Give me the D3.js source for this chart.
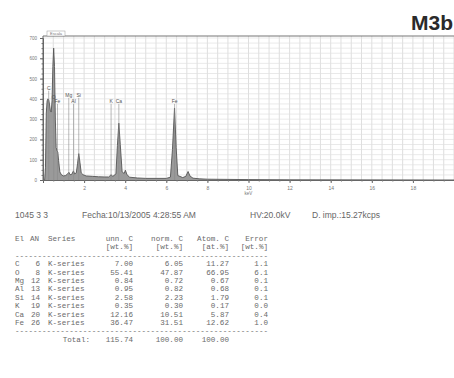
<!DOCTYPE html>
<html><head><meta charset="utf-8">
<script src="https://cdn.jsdelivr.net/npm/d3@7"></script>
<style>html,body{margin:0;padding:0;background:#fff;}svg{display:block;}</style>
</head><body>
<svg id="c" width="454" height="378"></svg>
<script>
// ---- spectrum data (keV, counts) ----
const energy = [0.00,0.08,0.12,0.16,0.20,0.24,0.28,0.32,0.36,0.40,0.44,0.48,0.52,0.56,0.60,0.64,0.68,0.72,0.76,0.82,0.90,1.00,1.10,1.20,1.26,1.32,1.40,1.48,1.54,1.62,1.68,1.74,1.80,1.86,1.95,2.10,2.40,2.70,3.00,3.20,3.31,3.40,3.55,3.62,3.69,3.76,3.85,3.95,4.01,4.08,4.20,4.60,5.00,5.50,6.00,6.20,6.30,6.40,6.48,6.56,6.80,6.95,7.06,7.15,7.30,7.60,8.00,9.00,10.0,12.0,20.0];
const counts = [0,0,60,330,390,400,395,370,340,335,390,560,650,560,300,160,145,138,95,40,25,20,22,30,38,26,28,45,30,35,80,130,85,35,26,20,18,16,15,15,26,18,30,170,280,175,40,32,48,28,14,10,8,8,8,14,150,355,160,22,12,18,42,20,9,6,4,3,2,1,0];

// peak markers
const markerNames = ["C","O","Fe","Mg","Al","Si","K","Ca","Fe"];
const markerKeV = [0.277,0.525,0.705,1.254,1.487,1.740,3.313,3.691,6.403];
const markerLabelCounts = [445,400,380,410,380,410,380,380,380];

// axes
const xTickValues = [2,4,6,8,10,12,14,16,18];
const yTickValues = [0,100,200,300,400,500,600,700];

// header info
const infoTexts = ["1045 3 3","Fecha:10/13/2005 4:28:55 AM","HV:20.0kV","D. imp.:15.27kcps"];
const title = "M3b";

// quantification table
const tElements = ["C","O","Mg","Al","Si","K","Ca","Fe"];
const tAN = ["6","8","12","13","14","19","20","26"];
const tSeries = ["K-series","K-series","K-series","K-series","K-series","K-series","K-series","K-series"];
const tUnn = ["7.00","55.41","0.84","0.95","2.58","0.35","12.16","36.47"];
const tNorm = ["6.05","47.87","0.72","0.82","2.23","0.30","10.51","31.51"];
const tAtom = ["11.27","66.95","0.67","0.68","1.79","0.17","5.87","12.62"];
const tErr = ["1.1","6.1","0.1","0.1","0.1","0.0","0.4","1.0"];
const totals = ["Total:","115.74","100.00","100.00"];

const svg = d3.select("#c");
const x = d3.scaleLinear().domain([0,20]).range([43, 454]);
const y = d3.scaleLinear().domain([0,700]).range([180, 38]);
const yTop = 36;

// grid
const g = svg.append("g");
g.selectAll("line.vg").data(d3.range(0.5,20.01,0.5)).enter().append("line")
  .attr("x1",d=>x(d)).attr("x2",d=>x(d)).attr("y1",yTop).attr("y2",y(0))
  .attr("stroke","#d6d6d6").attr("stroke-width",0.8);
g.selectAll("line.hg").data(d3.range(25,711,25)).enter().append("line")
  .attr("x1",x(0)).attr("x2",454).attr("y1",d=>y(d)).attr("y2",d=>y(d))
  .attr("stroke","#e0e0e0").attr("stroke-width",0.7);

// top frame line
svg.append("line").attr("x1",x(0)).attr("x2",454).attr("y1",yTop).attr("y2",yTop)
  .attr("stroke","#777").attr("stroke-width",1.2);
svg.append("rect").attr("x",47).attr("y",31).attr("width",18).attr("height",5)
  .attr("fill","#fff").attr("stroke","#999").attr("stroke-width",0.5);
svg.append("text").attr("x",56).attr("y",35).attr("text-anchor","middle")
  .attr("font-family","Liberation Sans, Arial").attr("font-size",4).attr("fill","#777").text("Escala");

// spectrum
const pts = energy.map((e,i)=>[e,counts[i]]);
const area = d3.area().x(d=>x(d[0])).y0(y(0)).y1(d=>y(d[1])).curve(d3.curveLinear);
const line = d3.line().x(d=>x(d[0])).y(d=>y(d[1])).curve(d3.curveLinear);
svg.append("path").datum(pts).attr("d",area).attr("fill","#9a9a9a");
svg.append("path").datum(pts).attr("d",line).attr("fill","none").attr("stroke","#555").attr("stroke-width",0.9);

// markers
markerNames.forEach((n,i)=>{
  const mx = x(markerKeV[i]), my = y(markerLabelCounts[i]);
  svg.append("line").attr("x1",mx).attr("x2",mx).attr("y1",my+1).attr("y2",y(0))
    .attr("stroke","#8a8a8a").attr("stroke-width",0.6);
  svg.append("text").attr("x",mx).attr("y",my).attr("text-anchor","middle")
    .attr("font-family","Liberation Sans, Arial").attr("font-size",5).attr("fill","#555").text(n);
});

// axes
const xAxis = d3.axisBottom(x).tickValues(xTickValues).tickSize(3).tickFormat(d3.format("d"));
const gx = svg.append("g").attr("transform",`translate(0,${y(0)})`).call(xAxis);
gx.select(".domain").attr("stroke","#666");
gx.selectAll(".tick line").attr("stroke","#666");
gx.selectAll("text").attr("font-size",5).attr("fill","#777").attr("font-family","Liberation Sans, Arial");
const gxm = svg.append("g").attr("transform",`translate(0,${y(0)})`)
  .call(d3.axisBottom(x).tickValues(d3.range(0.5,20,0.5)).tickSize(1.5).tickFormat(""));
gxm.select(".domain").remove(); gxm.selectAll("line").attr("stroke","#777");
svg.append("text").attr("x",x(10)).attr("y",y(0)+15).attr("text-anchor","middle")
  .attr("font-size",4.5).attr("fill","#777").attr("font-family","Liberation Sans, Arial").text("keV");

const yAxis = d3.axisLeft(y).tickValues(yTickValues).tickSize(3);
const gy = svg.append("g").attr("transform",`translate(${x(0)},0)`).call(yAxis);
gy.select(".domain").attr("stroke","#666");
gy.selectAll(".tick line").attr("stroke","#666");
gy.selectAll("text").attr("font-size",4.5).attr("fill","#777").attr("font-family","Liberation Sans, Arial");
const gym = svg.append("g").attr("transform",`translate(${x(0)},0)`)
  .call(d3.axisLeft(y).tickValues(d3.range(25,700,25)).tickSize(1.5).tickFormat(""));
gym.select(".domain").remove(); gym.selectAll("line").attr("stroke","#777");
svg.append("line").attr("x1",x(0)).attr("x2",x(0)).attr("y1",yTop).attr("y2",y(0)).attr("stroke","#666");

// title
svg.append("text").attr("x",453).attr("y",30).attr("text-anchor","end")
  .attr("font-family","Liberation Sans, Arial").attr("font-weight","bold").attr("font-size",21)
  .attr("fill","#2a2a2a").text(title);

// info line
const infoX = [15,82,250,312];
infoTexts.forEach((t,i)=>{
  svg.append("text").attr("x",infoX[i]).attr("y",218).attr("font-family","Liberation Sans, Arial")
    .attr("font-size",8.5).attr("fill","#666").text(t);
});

// table
const mono = "Liberation Mono, Courier New, monospace";
const tg = svg.append("g").attr("font-family",mono).attr("font-size",7.6).attr("fill","#6a6a6a");
const colR = [133,183,229,268];
const rowY0 = 241, dy = 8.4;
tg.append("text").attr("x",15).attr("y",rowY0).text("El");
tg.append("text").attr("x",30).attr("y",rowY0).text("AN");
tg.append("text").attr("x",48).attr("y",rowY0).text("Series");
["unn. C","norm. C","Atom. C","Error"].forEach((h,i)=>tg.append("text").attr("x",colR[i]).attr("y",rowY0).attr("text-anchor","end").text(h));
["[wt.%]","[wt.%]","[at.%]","[wt.%]"].forEach((h,i)=>tg.append("text").attr("x",colR[i]).attr("y",rowY0+dy).attr("text-anchor","end").text(h));
const dash = "-".repeat(56);
tg.append("text").attr("x",15).attr("y",rowY0+2*dy).attr("textLength",253).text(dash);
tElements.forEach((el,i)=>{
  const yy = rowY0 + (3+i)*dy;
  tg.append("text").attr("x",15).attr("y",yy).text(el);
  tg.append("text").attr("x",40).attr("y",yy).attr("text-anchor","end").text(tAN[i]);
  tg.append("text").attr("x",48).attr("y",yy).text(tSeries[i]);
  [tUnn[i],tNorm[i],tAtom[i],tErr[i]].forEach((v,j)=>tg.append("text").attr("x",colR[j]).attr("y",yy).attr("text-anchor","end").text(v));
});
const yEnd = rowY0 + (3+tElements.length)*dy;
tg.append("text").attr("x",15).attr("y",yEnd).attr("textLength",253).text(dash);
tg.append("text").attr("x",90).attr("y",yEnd+dy).attr("text-anchor","end").text(totals[0]);
[totals[1],totals[2],totals[3]].forEach((v,j)=>tg.append("text").attr("x",colR[j]).attr("y",yEnd+dy).attr("text-anchor","end").text(v));
</script>
</body></html>
